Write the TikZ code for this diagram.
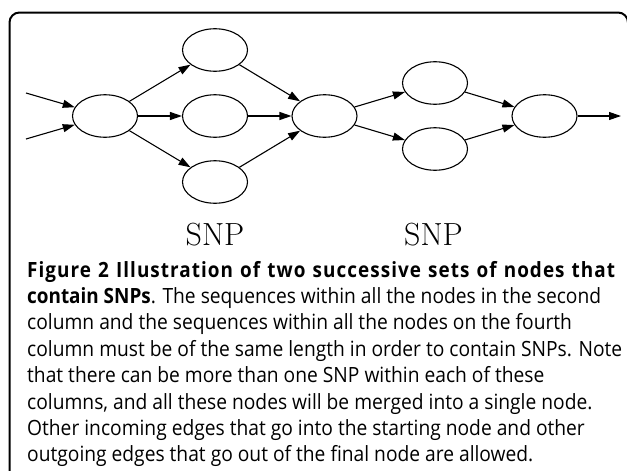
\documentclass[tikz,border=0pt]{standalone}
\usepackage{fontspec}
\newfontfamily\capfont[FakeStretch=0.915, BoldFeatures={FakeStretch=0.9}]{Open Sans}
\usetikzlibrary{shapes.geometric,arrows.meta}
\begin{document}
\begin{tikzpicture}[x=1pt,y=-1pt,
  state/.style={draw, ellipse, line width=1.1pt, minimum width=65pt, minimum height=42.5pt, inner sep=0pt},
  edge/.style={line width=1.1pt, -{Triangle[length=12pt,width=8pt]}},
  capline/.style={anchor=base west, inner sep=0pt, font=\capfont\fontsize{21}{25}\selectfont},
  snp/.style={anchor=base, inner sep=0pt, font=\fontsize{32}{38}\selectfont},
  frame/.style={line width=2pt, rounded corners=10pt}]
\path[use as bounding box] (0,0) rectangle (627,471);
\clip (0,0) rectangle (627,471);
\fill[white] (0,0) rectangle (627,471);
\draw[frame] (9.5,500) -- (9.5,12.5) -- (628,12.5) -- (628,500);
% nodes
\node[state] (L) at (105,116) {};
\node[state] (T) at (215,50) {};
\node[state] (M) at (215,116) {};
\node[state] (B) at (215,182) {};
\node[state] (C) at (324.5,116) {};
\node[state] (UR) at (435,83) {};
\node[state] (LR) at (435,149) {};
\node[state] (F) at (544.5,116) {};
\coordinate (in1) at (26,93);
\coordinate (in2) at (26,139);
\coordinate (out) at (621,116);
% edges
\draw[edge] (in1) -- (L);
\draw[edge] (in2) -- (L);
\draw[edge] (L) -- (T);
\draw[edge] (L) -- (M);
\draw[edge] (L) -- (B);
\draw[edge] (T) -- (C);
\draw[edge] (M) -- (C);
\draw[edge] (B) -- (C);
\draw[edge] (C) -- (UR);
\draw[edge] (C) -- (LR);
\draw[edge] (UR) -- (F);
\draw[edge] (LR) -- (F);
\draw[edge] (F) -- (out);
% labels
\node[snp] (snp1) at (215,245) {SNP};
\node[snp] (snp2) at (433.5,245) {SNP};
% caption
\node[capline] (c1) at (27,277) {\makebox[588pt][s]{\bfseries\addfontfeature{LetterSpace=5}Figure 2 Illustration of two successive sets of nodes that}};
\node[capline] (c2) at (27,303.4) {{\bfseries contain SNPs}. The sequences within all the nodes in the second};
\node[capline] (c3) at (27,329.8) {column and the sequences within all the nodes on the fourth};
\node[capline] (c4) at (27,356.2) {column must be of the same length in order to contain SNPs. Note};
\node[capline] (c5) at (27,382.6) {that there can be more than one SNP within each of these};
\node[capline] (c6) at (27,409) {columns, and all these nodes will be merged into a single node.};
\node[capline] (c7) at (27,435.4) {Other incoming edges that go into the starting node and other};
\node[capline] (c8) at (27,461.8) {outgoing edges that go out of the final node are allowed.};
\end{tikzpicture}
\end{document}
